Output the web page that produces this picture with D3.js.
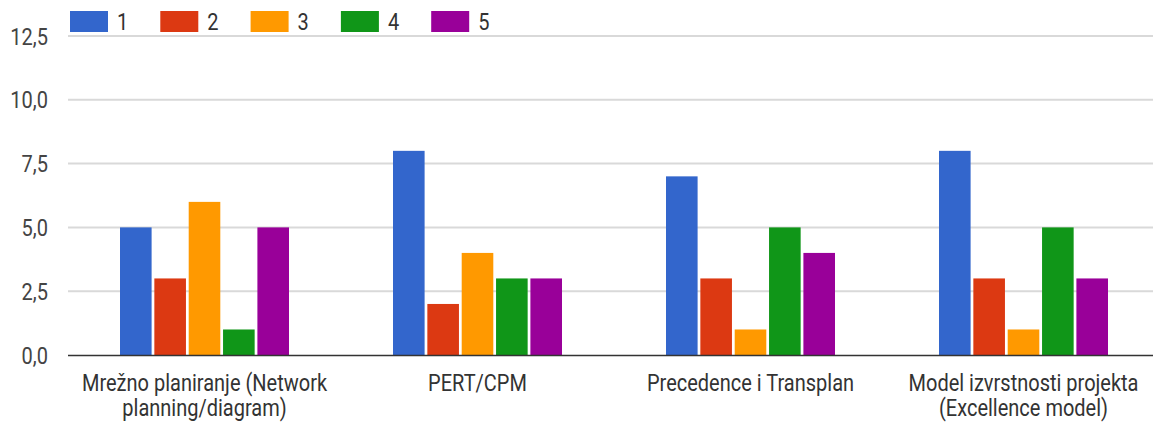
<!DOCTYPE html>
<html>
<head>
<meta charset="utf-8">
<script src="https://cdn.jsdelivr.net/npm/d3@7"></script>
<style>
  html, body { margin: 0; padding: 0; background: #fff; }
  svg text { font-family: Roboto, Arial, sans-serif; }
</style>
</head>
<body>
<div id="chart"></div>
<script>
// podaci
const categories = [
  ["Mrežno planiranje (Network", "planning/diagram)"],
  ["PERT/CPM"],
  ["Precedence i Transplan"],
  ["Model izvrstnosti projekta", "(Excellence model)"]
];
const seriesNames = ["1", "2", "3", "4", "5"];
const seriesColors = ["#3366cc", "#dc3912", "#ff9900", "#109618", "#990099"];
const values = [
  [5, 3, 6, 1, 5],
  [8, 2, 4, 3, 3],
  [7, 3, 1, 5, 4],
  [8, 3, 1, 5, 3]
];
const yTicks = [0, 2.5, 5, 7.5, 10, 12.5];

const W = 1153, H = 426;
const plotLeft = 68, plotRight = 1160, plotTop = 36, plotBottom = 355;
const FONT = 20, STRETCH = 1.15;

const svg = d3.select("#chart").append("svg").attr("width", W).attr("height", H);

const y = d3.scaleLinear().domain([0, 12.5]).range([plotBottom, plotTop]);
const x0 = d3.scaleBand().domain(d3.range(categories.length)).range([plotLeft, plotRight]);
const x1 = d3.scaleBand().domain(d3.range(seriesNames.length)).range([0, 169]).paddingInner(0.08);
const groupOffset = (x0.bandwidth() - 169) / 2;

// text placed at (x, y) and stretched a bit vertically, like the source image
function place(x, yy) {
  return `translate(${x},${yy}) scale(1,${STRETCH})`;
}

// grid
svg.append("g").selectAll("line")
  .data(yTicks.filter((t) => t > 0))
  .enter()
  .append("line")
  .attr("x1", plotLeft)
  .attr("x2", W)
  .attr("y1", (d) => y(d))
  .attr("y2", (d) => y(d))
  .attr("stroke", "#d9d9d9")
  .attr("stroke-width", 2);

// y labels
svg.append("g").selectAll("text")
  .data(yTicks)
  .enter()
  .append("text")
  .attr("transform", (d) => place(48, y(d) + 8.5))
  .attr("text-anchor", "end")
  .attr("font-size", FONT)
  .attr("fill", "#444")
  .text((d) => d.toFixed(1).replace(".", ","));

// bars
const groups = svg.append("g").selectAll("g")
  .data(values)
  .enter()
  .append("g")
  .attr("transform", (d, i) => `translate(${x0(i) + groupOffset},0)`);

groups.selectAll("rect")
  .data((d) => d)
  .enter()
  .append("rect")
  .attr("x", (d, i) => x1(i))
  .attr("y", (d) => y(d))
  .attr("width", x1.bandwidth())
  .attr("height", (d) => plotBottom - y(d))
  .attr("fill", (d, i) => seriesColors[i]);

// baseline
svg.append("line")
  .attr("x1", plotLeft).attr("x2", W)
  .attr("y1", plotBottom + 0.5).attr("y2", plotBottom + 0.5)
  .attr("stroke", "#333").attr("stroke-width", 1.5);

// category labels
const catLabels = svg.append("g").selectAll("text")
  .data(categories)
  .enter()
  .append("text")
  .attr("transform", (d, i) => place(x0(i) + x0.bandwidth() / 2, 391))
  .attr("text-anchor", "middle")
  .attr("font-size", FONT)
  .attr("fill", "#333");

catLabels.selectAll("tspan")
  .data((d) => d)
  .enter()
  .append("tspan")
  .attr("x", 0)
  .attr("dy", (d, i) => (i === 0 ? 0 : 25 / STRETCH))
  .text((d) => d);

// legend
const legend = svg.append("g").selectAll("g")
  .data(seriesNames)
  .enter()
  .append("g")
  .attr("transform", (d, i) => `translate(${70 + i * 90.3},11)`);

legend.append("rect")
  .attr("width", 38)
  .attr("height", 21)
  .attr("fill", (d, i) => seriesColors[i]);

legend.append("text")
  .attr("transform", place(47, 19))
  .attr("font-size", FONT)
  .attr("fill", "#333")
  .text((d) => d);
</script>
</body>
</html>
